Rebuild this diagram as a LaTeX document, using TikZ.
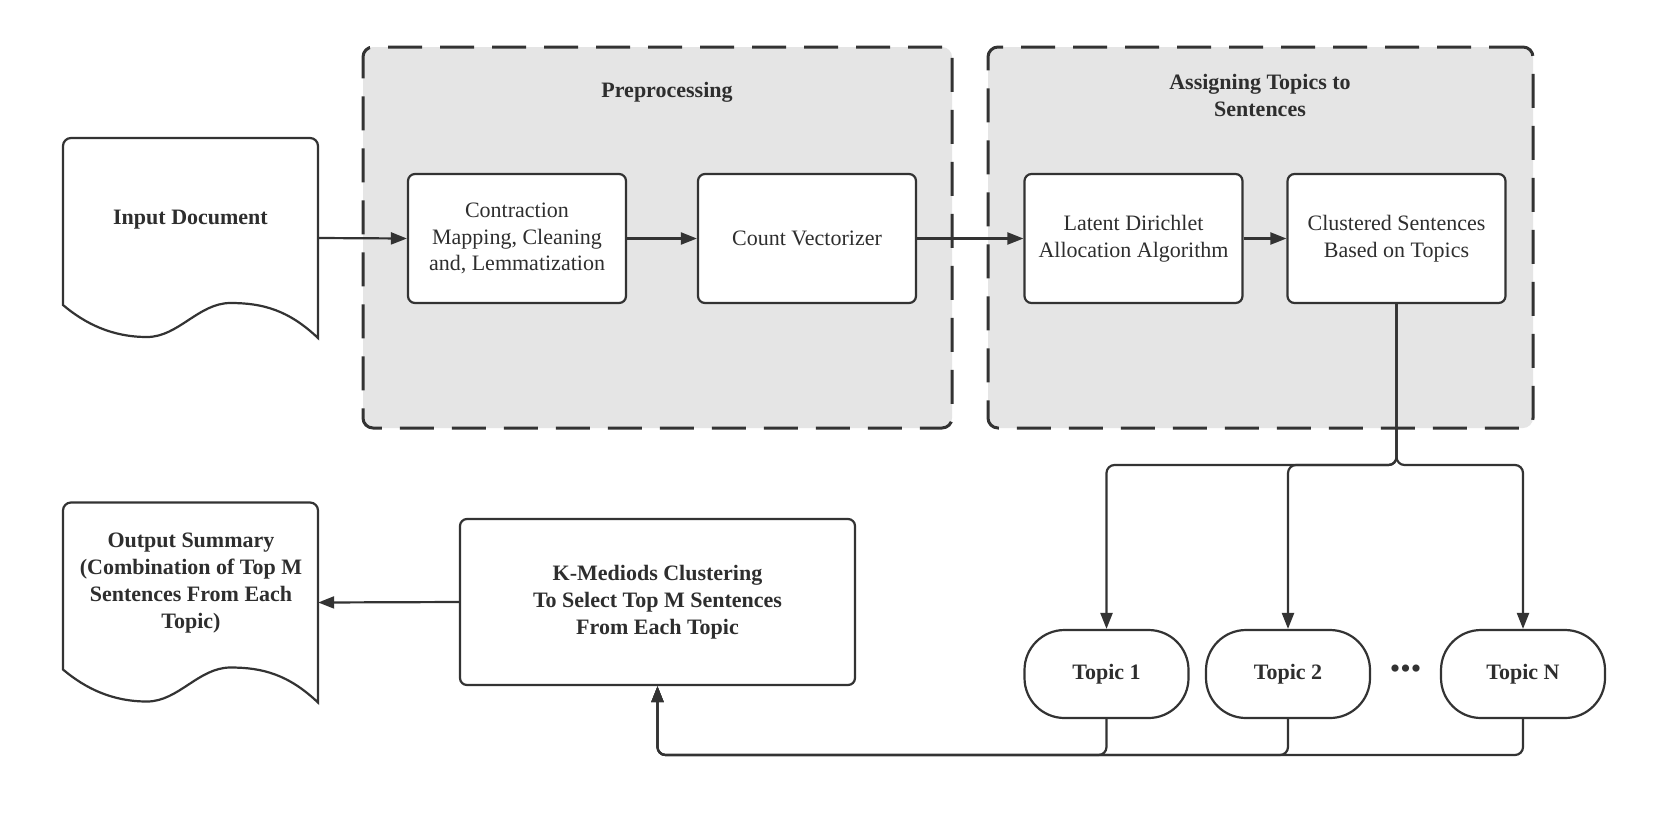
\documentclass[tikz,border=0pt]{standalone}
\usepackage{fontspec}
\setmainfont{Liberation Serif}
\usetikzlibrary{arrows.meta,calc}
\definecolor{linec}{HTML}{333333}
\definecolor{groupfill}{HTML}{E5E5E5}
\definecolor{txtc}{HTML}{2E2E2E}
\newcommand{\docoutline}[1]{%
  \draw[draw=linec, line width=2.2pt, fill=white, shift={(#1.center)}]
    (-127.5,67) [rounded corners=8pt] -- (-127.5,-100) -- (127.5,-100) -- (127.5,90) [sharp corners] -- (127.5,100)
    .. controls (98,72) and (72,65) .. (40,65)
    .. controls (8,65) and (-12,99) .. (-43.5,99)
    .. controls (-78,99) and (-105,86) .. (-127.5,67) -- cycle;}
\begin{document}
\begin{tikzpicture}[x=1pt,y=-1pt,
  every node/.style={font=\fontsize{22}{26.7}\selectfont, text=txtc, align=center, inner sep=0pt},
  procbox/.style={draw=linec, line width=2.2pt, fill=white, rounded corners=7pt, minimum width=218pt, minimum height=129pt},
  groupbox/.style={draw=linec, line width=3pt, fill=groupfill, rounded corners=10pt, dash pattern=on 34pt off 18pt},
  topicbox/.style={draw=linec, line width=2.2pt, fill=white, rounded corners=40pt, minimum width=164pt, minimum height=88pt, font=\fontsize{22}{26.7}\selectfont\bfseries},
  docframe/.style={minimum width=255pt, minimum height=200pt},
  boldtxt/.style={font=\fontsize{22}{26.7}\selectfont\bfseries},
  conn/.style={draw=linec, line width=2.2pt, -{Triangle[length=16pt,width=12pt]}},
]
\useasboundingbox[fill=white] (0,0) rectangle (1669,820);

% groups
\node[groupbox, minimum width=589pt, minimum height=381pt] (pre) at (657.5,237.5) {};
\node[groupbox, minimum width=545pt, minimum height=381pt] (asg) at (1260.5,237.5) {};
\node[boldtxt] (pretitle) at (667,92) {Preprocessing};
\node[boldtxt] (asgtitle) at (1260,95.5) {Assigning Topics to\\Sentences};

% process boxes
\node[procbox] (cmc) at (517,238.5) {Contraction\\Mapping, Cleaning\\and, Lemmatization};
\node[procbox] (cv) at (807,238.5) {Count Vectorizer};
\node[procbox] (lda) at (1133.5,238.5) {Latent Dirichlet\\Allocation Algorithm};
\node[procbox] (cls) at (1396.5,238.5) {Clustered Sentences\\Based on Topics};

% documents
\node[docframe] (input) at (190.5,238) {};
\docoutline{input}
\node[boldtxt] (inputtxt) at (190.5,220) {Input Document};
\node[docframe] (output) at (190.5,602.5) {};
\docoutline{output}
\node[boldtxt] (outputtxt) at (191,583) {Output Summary\\(Combination of Top M\\Sentences From Each\\Topic)};

% k-mediods
\node[procbox, boldtxt, minimum width=395pt, minimum height=166pt] (kmed) at (657.5,602) {K-Mediods Clustering\\To Select Top M Sentences\\From Each Topic};

% topics
\node[topicbox] (t1) at (1106.5,674) {Topic 1};
\node[topicbox] (t2) at (1288,674) {Topic 2};
\node[topicbox] (tn) at (1523,674) {Topic N};
\node[font=\fontsize{30}{30}\selectfont, text=linec] (dots) at (1405.5,672) {•••};

\coordinate (split) at (1396.5,465);
\coordinate (merge) at (657.5,755);

% connectors
\draw[conn] (input.east) -- (cmc.west);
\draw[conn] (cmc) -- (cv);
\draw[conn] (cv) -- (lda);
\draw[conn] (lda) -- (cls);
\draw[conn, rounded corners=8pt] (cls.south) -- (split) -| (t1.north);
\draw[conn, rounded corners=8pt] (cls.south) -- (split) -| (t2.north);
\draw[conn, rounded corners=8pt] (cls.south) -- (split) -| (tn.north);
\draw[conn, rounded corners=8pt] (t1.south) |- (merge) -- (kmed.south);
\draw[conn, rounded corners=8pt] (t2.south) |- (merge) -- (kmed.south);
\draw[conn, rounded corners=8pt] (tn.south) |- (merge) -- (kmed.south);
\draw[conn] (kmed.west) -- (output.east);
\end{tikzpicture}
\end{document}
